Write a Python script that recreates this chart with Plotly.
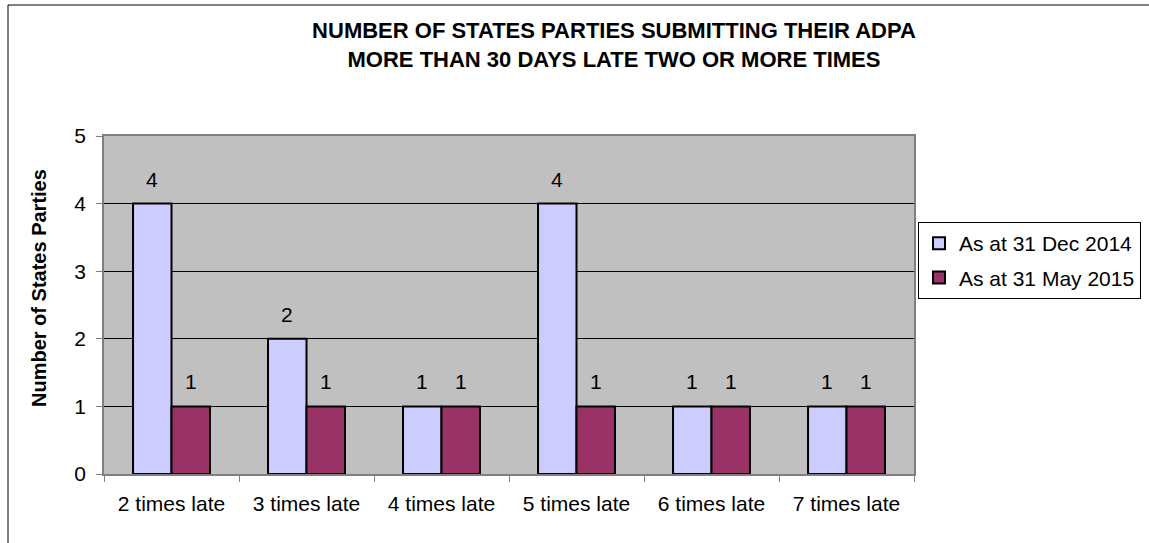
import plotly.graph_objects as go

categories = ["2 times late", "3 times late", "4 times late", "5 times late", "6 times late", "7 times late"]
dec_2014 = [4, 2, 1, 4, 1, 1]
may_2015 = [1, 1, 1, 1, 1, 1]
series_names = ["As at 31 Dec 2014", "As at 31 May 2015"]
series_colors = ["#CCCCFF", "#993366"]
y_ticks = [0, 1, 2, 3, 4, 5]

W, H = 1149, 543
L, R, T, B = 104, 235, 136, 69
pw, ph = W - L - R, H - T - B

FONT = "Liberation Sans, Arial, sans-serif"
BARGAP = 0.43
bar_px = pw / len(categories) * (1 - BARGAP) / 2

fig = go.Figure()
annotations = []
for j, (vals, name, col) in enumerate(zip([dec_2014, may_2015], series_names, series_colors)):
    fig.add_trace(go.Bar(
        x=categories, y=vals, name=name, legendgroup=name,
        marker=dict(color=col, line=dict(color="black", width=2)),
    ))
    for c, v in zip(categories, vals):
        annotations.append(dict(
            x=c, y=v, xref="x", yref="y", text=str(v), showarrow=False,
            xanchor="center", yanchor="bottom", xshift=(j - 0.5) * bar_px, yshift=11,
            font=dict(size=21, color="black", family=FONT),
        ))

annotations.append(dict(
    text="<b>Number of States Parties</b>", textangle=-90, showarrow=False,
    xref="paper", yref="paper", x=(39 - L) / pw, y=(H - B - 288) / ph,
    xanchor="center", yanchor="middle", font=dict(size=20, family=FONT, color="black"),
))

fig.update_layout(
    width=W, height=H,
    margin=dict(l=L, r=R, t=T, b=B, autoexpand=False),
    paper_bgcolor="white",
    plot_bgcolor="#C0C0C0",
    barmode="group",
    bargap=BARGAP, bargroupgap=0,
    font=dict(family=FONT, size=21, color="black"),
    title=dict(
        text="<b>NUMBER OF STATES PARTIES SUBMITTING THEIR ADPA<br>MORE THAN 30 DAYS LATE TWO OR MORE TIMES</b>",
        x=(614 - L) / pw, xref="paper", xanchor="center",
        y=1 - 38 / H, yref="container", yanchor="top",
        font=dict(size=22, family=FONT, color="black"),
    ),
    legend=dict(
        x=(918 - L) / pw, y=(H - B - 222) / ph, xanchor="left", yanchor="top",
        bordercolor="black", borderwidth=1, bgcolor="white",
        font=dict(size=21, family=FONT), tracegroupgap=4, itemwidth=30,
    ),
    showlegend=True,
    annotations=annotations,
    shapes=[dict(type="rect", xref="paper", yref="paper",
                 x0=(8 - L) / pw, x1=2, y0=-1, y1=(H - B - 5) / ph,
                 line=dict(color="black", width=1), fillcolor="rgba(0,0,0,0)", layer="below")],
)
fig.update_xaxes(
    type="category", tickson="boundaries", ticks="outside", ticklen=6,
    tickcolor="#808080", showline=True, linecolor="#808080", linewidth=1.5, mirror=True,
    showgrid=False, tickfont=dict(size=21), ticklabelstandoff=10,
)
fig.update_yaxes(
    range=[0, 5], tickvals=y_ticks, ticks="outside", ticklen=6, tickcolor="#808080",
    showline=True, linecolor="#808080", linewidth=1.5, mirror=True,
    showgrid=True, gridcolor="black", gridwidth=1, zeroline=False,
    tickfont=dict(size=21), ticklabelstandoff=6,
)

fig.write_html("out.html", config={"displayModeBar": False},
               post_script="document.body.style.margin='0';")
